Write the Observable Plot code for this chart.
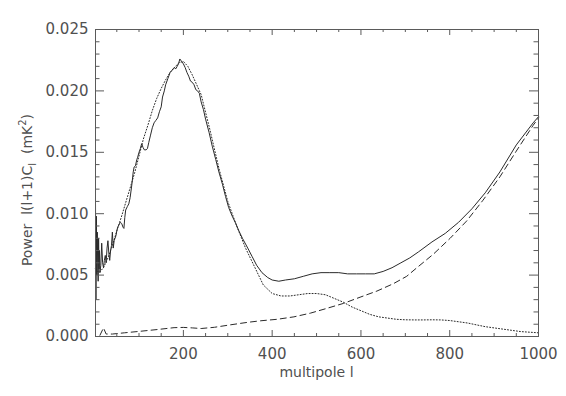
<!DOCTYPE html>
<html><head><meta charset="utf-8">
<script src="https://cdn.jsdelivr.net/npm/d3@7"></script>
<script src="https://cdn.jsdelivr.net/npm/@observablehq/plot@0.6"></script>
<style>body{margin:0;background:#fff}</style>
</head><body><div id="chart"></div>
<script>
// Measured spectrum (solid)
const dataL = [2,3,4,5,6,7,8,9,10,11,12,14,16,18,20,22,24,26,28,30,32,34,36,38,40,42,44,46,48,50,52,55,58,61,64,66,68,70,74,77,80,84,87,89,92,95,97,100,103,106,109,112,116,119,122,126,130,134,138,142,146,150,153,157,160,165,170,175,179,183,186,189,192,196,200,204,208,212,216,220,224,228,232,236,240,245,250,258,265,273,280,288,295,302,310,318,325,333,345,355,365,377,390,400,415,430,450,470,490,510,530,550,570,590,610,630,650,670,690,710,730,760,790,820,850,880,913,950,988,1000];
const dataP = [0.0112,0.0030,0.0098,0.0050,0.0085,0.0060,0.0045,0.0080,0.0055,0.0070,0.0052,0.0058,0.0076,0.0060,0.0056,0.0062,0.0066,0.0060,0.0072,0.0078,0.0068,0.0062,0.0070,0.0074,0.0085,0.0072,0.0078,0.0080,0.0082,0.0086,0.0089,0.0091,0.0093,0.0092,0.0089,0.0088,0.0097,0.0103,0.0106,0.0108,0.0113,0.0124,0.0134,0.0138,0.0139,0.0144,0.0146,0.0150,0.0153,0.0157,0.0154,0.0152,0.0152,0.0153,0.0158,0.0164,0.0170,0.0174,0.0176,0.0178,0.0183,0.0187,0.0195,0.0200,0.0205,0.0210,0.0215,0.0217,0.0219,0.0218,0.0220,0.0222,0.0226,0.0224,0.0222,0.0219,0.0215,0.0212,0.0208,0.0207,0.0205,0.0201,0.0200,0.0198,0.0191,0.0185,0.0177,0.0166,0.0155,0.0144,0.0134,0.0124,0.0114,0.0105,0.0098,0.0092,0.0086,0.0080,0.0072,0.0065,0.0058,0.0052,0.0048,0.0046,0.0045,0.0046,0.0047,0.0049,0.0051,0.0052,0.0052,0.0052,0.0051,0.0051,0.0051,0.0051,0.0053,0.0056,0.0060,0.0064,0.0069,0.0077,0.0084,0.0093,0.0104,0.0117,0.0134,0.0156,0.0174,0.0179];

// Model spectrum (dotted)
const modelL = [2,10,20,30,40,50,60,70,80,90,100,110,120,130,140,150,160,170,180,190,200,210,220,230,240,260,280,300,320,340,360,380,400,420,440,460,480,500,520,540,560,580,600,620,640,660,680,700,720,740,760,780,800,820,840,860,880,900,920,940,960,980,1000];
const modelP = [0.0055,0.0052,0.0056,0.0064,0.0074,0.0086,0.0097,0.0109,0.0121,0.0133,0.0147,0.0161,0.0172,0.0184,0.0194,0.0202,0.0209,0.0215,0.0219,0.0223,0.0224,0.0220,0.0213,0.0205,0.0197,0.0168,0.0137,0.0110,0.0090,0.0072,0.0057,0.0042,0.0035,0.0033,0.0033,0.0034,0.0035,0.0035,0.0034,0.0031,0.0028,0.0024,0.0021,0.0018,0.0016,0.0015,0.0014,0.00136,0.00135,0.00135,0.00136,0.00135,0.0013,0.0012,0.0011,0.00095,0.0008,0.0007,0.0006,0.0005,0.0004,0.00035,0.0003];

// Noise spectrum (dashed)
const noiseL = [12,20,26,40,67,104,142,179,200,220,240,270,306,344,374,411,449,486,524,561,598,636,673,703,726,763,801,838,875,913,950,988,1000];
const noiseP = [0.0001,0.0007,0.0002,0.0002,0.0003,0.00043,0.00057,0.00072,0.00074,0.0007,0.00065,0.00075,0.00095,0.00115,0.00128,0.0014,0.0016,0.0019,0.0023,0.0027,0.0032,0.0037,0.0043,0.0049,0.0056,0.0067,0.0080,0.0094,0.0111,0.0130,0.0151,0.0172,0.0178];

const xMajor = [200,400,600,800,1000];
const xMinor = [50,100,150,250,300,350,450,500,550,650,700,750,850,900,950];
const yMajor = [0,0.005,0.010,0.015,0.020,0.025];
const yMinor = [0.001,0.002,0.003,0.004,0.006,0.007,0.008,0.009,0.011,0.012,0.013,0.014,0.016,0.017,0.018,0.019,0.021,0.022,0.023,0.024];

const xTitle = "multipole l";

const W = 566, H = 396, mL = 95, mR = 28, mT = 29, mB = 60;
const pw = W - mL - mR, ph = H - mT - mB;
const ink = "#505050", axisInk = "#5a5a5a", lineInk = "#2a2a2a";

const data = dataL.map((l, i) => ({l, p: dataP[i]}));
const model = modelL.map((l, i) => ({l, p: modelP[i]}));
const noise = noiseL.map((l, i) => ({l, p: noiseP[i]}));

const plot = Plot.plot({
  width: W, height: H,
  marginLeft: mL, marginRight: mR, marginTop: mT, marginBottom: mB,
  style: {fontFamily: "DejaVu Sans", fontSize: "15px", color: ink, background: "#fff"},
  x: {domain: [2, 1000]},
  y: {domain: [0, 0.025]},
  marks: [
    Plot.line(model, {x: "l", y: "p", stroke: lineInk, strokeWidth: 1, strokeDasharray: "1,2"}),
    Plot.line(noise, {x: "l", y: "p", stroke: lineInk, strokeWidth: 1, strokeDasharray: "6,4"}),
    Plot.line(data, {x: "l", y: "p", stroke: lineInk, strokeWidth: 1}),
    Plot.tickY(yMajor, {y: d => d, stroke: axisInk, insetRight: pw - 9}),
    Plot.tickY(yMajor, {y: d => d, stroke: axisInk, insetLeft: pw - 9}),
    Plot.tickY(yMinor, {y: d => d, stroke: axisInk, insetRight: pw - 4.5}),
    Plot.tickY(yMinor, {y: d => d, stroke: axisInk, insetLeft: pw - 4.5}),
    Plot.tickX(xMajor, {x: d => d, stroke: axisInk, insetTop: ph - 6}),
    Plot.tickX(xMajor, {x: d => d, stroke: axisInk, insetBottom: ph - 6}),
    Plot.tickX(xMinor, {x: d => d, stroke: axisInk, insetTop: ph - 3}),
    Plot.tickX(xMinor, {x: d => d, stroke: axisInk, insetBottom: ph - 3}),
    Plot.frame({stroke: axisInk}),
    Plot.axisX({ticks: xMajor, tickSize: 0, tickPadding: 12, label: null, tickFormat: d => String(d)}),
    Plot.axisY({ticks: yMajor, tickSize: 0, tickPadding: 7, label: null, tickFormat: d3.format(".3f")})
  ]
});

const svg = d3.select(plot);
svg.append("text")
  .attr("x", mL + pw / 2).attr("y", 377)
  .attr("text-anchor", "middle").attr("font-size", 14).attr("fill", ink)
  .text(xTitle);

const yt = svg.append("text")
  .attr("transform", `translate(32,190) rotate(-90)`)
  .attr("text-anchor", "middle").attr("font-size", 14).attr("fill", ink);
yt.append("tspan").text("Power  l(l+1)C");
yt.append("tspan").attr("font-size", 10).attr("dy", 4).text("l");
yt.append("tspan").attr("dy", -4).text("  (mK");
yt.append("tspan").attr("font-size", 10).attr("dy", -6).text("2");
yt.append("tspan").attr("dy", 6).text(")");

document.getElementById("chart").appendChild(plot);
</script>
</body></html>
